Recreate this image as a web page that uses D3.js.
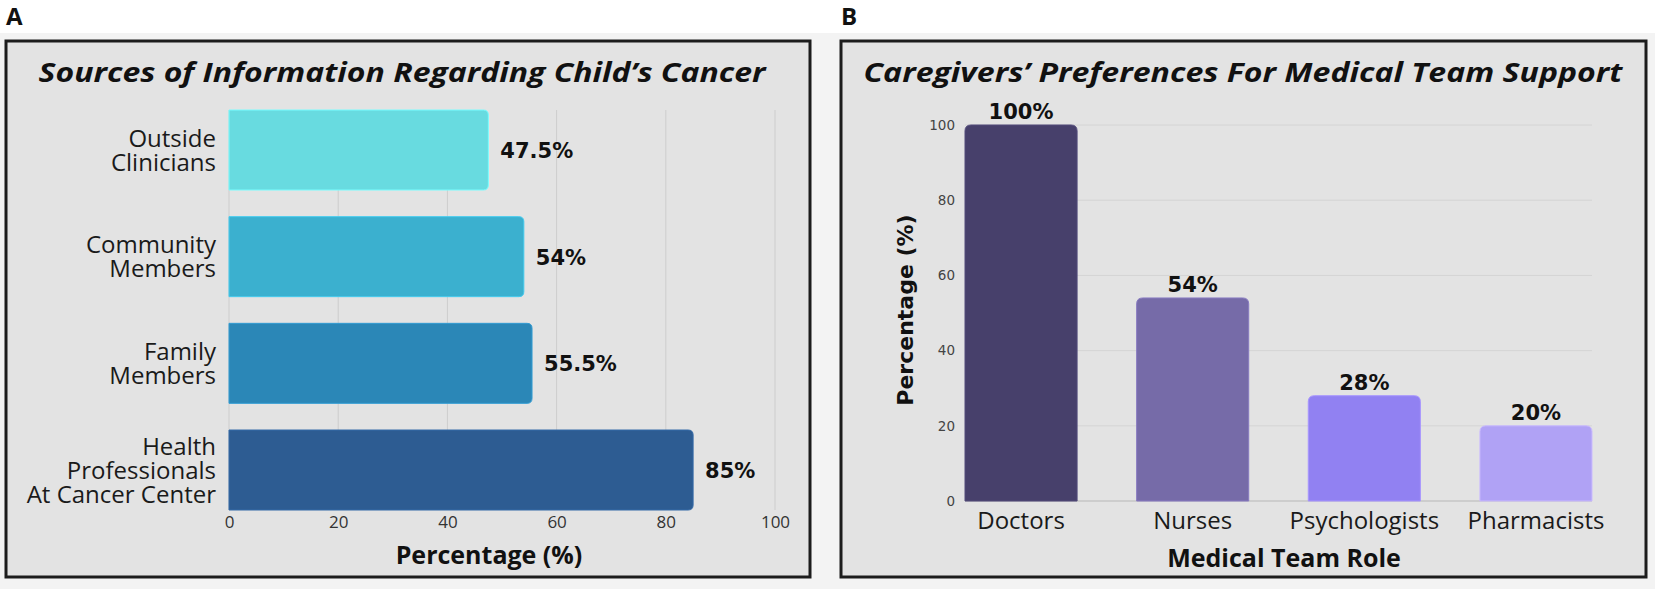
<!DOCTYPE html>
<html>
<head>
<meta charset="utf-8">
<script src="https://cdn.jsdelivr.net/npm/d3@7"></script>
<style>
  html, body { margin: 0; padding: 0; background: #ffffff; }
  svg { display: block; }
</style>
</head>
<body>
<div id="container"></div>
<script>
const WIDTH = 1655,
      HEIGHT = 589;

// panel A data
const sourceNames = ["Outside Clinicians", "Community Members", "Family Members",
                     "Health Professionals At Cancer Center"];
const sourceLines = [["Outside", "Clinicians"], ["Community", "Members"],
                     ["Family", "Members"], ["Health", "Professionals", "At Cancer Center"]];
const sourceValues = [47.5, 54, 55.5, 85];
const sourceLabels = ["47.5%", "54%", "55.5%", "85%"];
const sourceTicks = [0, 20, 40, 60, 80, 100];

// panel B data
const roleNames = ["Doctors", "Nurses", "Psychologists", "Pharmacists"];
const roleValues = [100, 54, 28, 20];
const roleLabels = ["100%", "54%", "28%", "20%"];
const roleTicks = [0, 20, 40, 60, 80, 100];

const sourceColors = ["#68dbe0", "#3bb0cf", "#2b87b7", "#2d5c92"];
const roleColors = ["#47406b", "#766ba8", "#9181f2", "#b0a2f5"];

const titleFont = "'Open Sans', 'DejaVu Sans', sans-serif";
const labelFont = "'Open Sans', 'Noto Sans', sans-serif";
const valueFont = "'DejaVu Sans', sans-serif";

const svg = d3.select('#container').append('svg')
    .attr("width", WIDTH).attr("height", HEIGHT);

// page background
svg.append("rect").attr("x", 0).attr("y", 0).attr("width", WIDTH).attr("height", HEIGHT)
    .attr("fill", "#ffffff");
svg.append("rect").attr("x", 0).attr("y", 33).attr("width", WIDTH).attr("height", HEIGHT - 33)
    .attr("fill", "#f3f3f3");

const panel = (x0, x1, letter) => {
    svg.append("rect")
        .attr("x", x0).attr("y", 41)
        .attr("width", x1 - x0).attr("height", 577 - 41)
        .attr("fill", "#e3e3e3")
        .attr("stroke", "#1c1c1c")
        .attr("stroke-width", 3);
    svg.append("text")
        .attr("x", x0).attr("y", 25)
        .attr("font-family", titleFont)
        .attr("font-weight", 700)
        .attr("font-size", 24)
        .attr("fill", "#111")
        .text(letter);
};

// bars with rounded ends
const roundRight = (x, y, w, h, r) =>
    `M${x},${y}H${x + w - r}Q${x + w},${y} ${x + w},${y + r}V${y + h - r}` +
    `Q${x + w},${y + h} ${x + w - r},${y + h}H${x}Z`;
const roundTop = (x, y, w, h, r) =>
    `M${x},${y + h}V${y + r}Q${x},${y} ${x + r},${y}H${x + w - r}` +
    `Q${x + w},${y} ${x + w},${y + r}V${y + h}Z`;

// ---------- panel A ----------
panel(6, 810, "A");

svg.append("text")
    .attr("x", 402).attr("y", 82)
    .attr("text-anchor", "middle")
    .attr("font-family", titleFont)
    .attr("font-weight", 700)
    .attr("font-style", "italic")
    .attr("font-size", 26)
    .attr("textLength", 727)
    .attr("lengthAdjust", "spacingAndGlyphs")
    .attr("fill", "#111")
    .text("Sources of Information Regarding Child’s Cancer");

const xA = d3.scaleLinear().domain([0, 100]).range([229, 775]);
const yA = d3.scaleBand().domain(sourceNames).range([110, 510])
    .paddingInner(0.25).paddingOuter(0);

svg.append("g")
    .selectAll("line")
    .data(sourceTicks)
    .join("line")
    .attr("x1", (d) => xA(d)).attr("x2", (d) => xA(d))
    .attr("y1", yA.range()[0]).attr("y2", yA.range()[1])
    .attr("stroke", "#cdcdcd")
    .attr("stroke-width", 1);

const xAxisA = d3.axisBottom(xA).tickValues(sourceTicks).tickSize(0).tickPadding(0);
const gxA = svg.append("g")
    .attr("transform", `translate(0, 516)`)
    .call(xAxisA);
gxA.select(".domain").remove();
gxA.selectAll("text")
    .attr("dy", "0.71em")
    .attr("font-family", labelFont)
    .attr("font-size", 17)
    .attr("fill", "#333");

svg.append("g")
    .selectAll("path")
    .data(sourceValues)
    .join("path")
    .attr("d", (d, i) => roundRight(xA(0), yA(sourceNames[i]), xA(d) - xA(0), yA.bandwidth(), 5))
    .attr("fill", (d, i) => sourceColors[i])
    .attr("stroke", (d, i) => d3.color(sourceColors[i]).brighter(0.4))
    .attr("stroke-width", 1);

svg.append("g")
    .selectAll("text")
    .data(sourceValues)
    .join("text")
    .attr("x", (d) => xA(d) + 12)
    .attr("y", (d, i) => yA(sourceNames[i]) + yA.bandwidth() / 2 + 8)
    .attr("font-family", valueFont)
    .attr("font-weight", 700)
    .attr("font-size", 21)
    .attr("fill", "#111")
    .text((d, i) => sourceLabels[i]);

const catA = svg.append("g")
    .selectAll("text")
    .data(sourceLines)
    .join("text")
    .attr("text-anchor", "end")
    .attr("font-family", labelFont)
    .attr("font-size", 24)
    .attr("fill", "#1a1a1a");
catA.each(function (lines, i) {
    const cy = yA(sourceNames[i]) + yA.bandwidth() / 2;
    const lh = 24;
    const top = cy - (lines.length - 1) * lh / 2;
    d3.select(this).selectAll("tspan")
        .data(lines)
        .join("tspan")
        .attr("x", 216)
        .attr("y", (l, j) => top + j * lh + 8.5)
        .text((l) => l);
});

svg.append("text")
    .attr("x", 489).attr("y", 564)
    .attr("text-anchor", "middle")
    .attr("font-family", titleFont)
    .attr("font-weight", 700)
    .attr("font-size", 25)
    .attr("fill", "#111")
    .text("Percentage (%)");

// ---------- panel B ----------
panel(841, 1646, "B");

svg.append("text")
    .attr("x", 1243).attr("y", 82)
    .attr("text-anchor", "middle")
    .attr("font-family", titleFont)
    .attr("font-weight", 700)
    .attr("font-style", "italic")
    .attr("font-size", 26)
    .attr("textLength", 759)
    .attr("lengthAdjust", "spacingAndGlyphs")
    .attr("fill", "#111")
    .text("Caregivers’ Preferences For Medical Team Support");

const xB = d3.scaleBand().domain(roleNames).range([965, 1592])
    .paddingInner(0.347).paddingOuter(0);
const yB = d3.scaleLinear().domain([0, 100]).range([501, 125]);

svg.append("g")
    .selectAll("line")
    .data(roleTicks)
    .join("line")
    .attr("x1", xB.range()[0]).attr("x2", xB.range()[1])
    .attr("y1", (d) => yB(d)).attr("y2", (d) => yB(d))
    .attr("stroke", (d) => d === 0 ? "#c6c6c6" : "#d4d4d4")
    .attr("stroke-width", (d) => d === 0 ? 1.5 : 1);

const yAxisB = d3.axisLeft(yB).tickValues(roleTicks).tickSize(0).tickPadding(0);
const gyB = svg.append("g")
    .attr("transform", `translate(955, 0)`)
    .call(yAxisB);
gyB.select(".domain").remove();
gyB.selectAll("text")
    .attr("font-family", valueFont)
    .attr("font-size", 13.5)
    .attr("fill", "#444");

svg.append("g")
    .selectAll("path")
    .data(roleValues)
    .join("path")
    .attr("d", (d, i) => roundTop(xB(roleNames[i]), yB(d), xB.bandwidth(), yB(0) - yB(d), 6))
    .attr("fill", (d, i) => roleColors[i])
    .attr("stroke", (d, i) => d3.color(roleColors[i]).brighter(0.4))
    .attr("stroke-width", 1);

svg.append("g")
    .selectAll("text")
    .data(roleValues)
    .join("text")
    .attr("x", (d, i) => xB(roleNames[i]) + xB.bandwidth() / 2)
    .attr("y", (d) => yB(d) - 6)
    .attr("text-anchor", "middle")
    .attr("font-family", valueFont)
    .attr("font-weight", 700)
    .attr("font-size", 21)
    .attr("fill", "#111")
    .text((d, i) => roleLabels[i]);

const xAxisB = d3.axisBottom(xB).tickSize(0).tickPadding(0);
const gxB = svg.append("g")
    .attr("transform", `translate(0, 512)`)
    .call(xAxisB);
gxB.select(".domain").remove();
gxB.selectAll("text")
    .attr("dy", "0.72em")
    .attr("font-family", labelFont)
    .attr("font-size", 24)
    .attr("fill", "#1a1a1a");

svg.append("text")
    .attr("x", 1284).attr("y", 567)
    .attr("text-anchor", "middle")
    .attr("font-family", titleFont)
    .attr("font-weight", 700)
    .attr("font-size", 25)
    .attr("fill", "#111")
    .text("Medical Team Role");

svg.append("text")
    .attr("transform", `translate(913, 310) rotate(-90)`)
    .attr("text-anchor", "middle")
    .attr("font-family", valueFont)
    .attr("font-weight", 700)
    .attr("font-size", 22)
    .attr("fill", "#111")
    .text("Percentage (%)");
</script>
</body>
</html>
